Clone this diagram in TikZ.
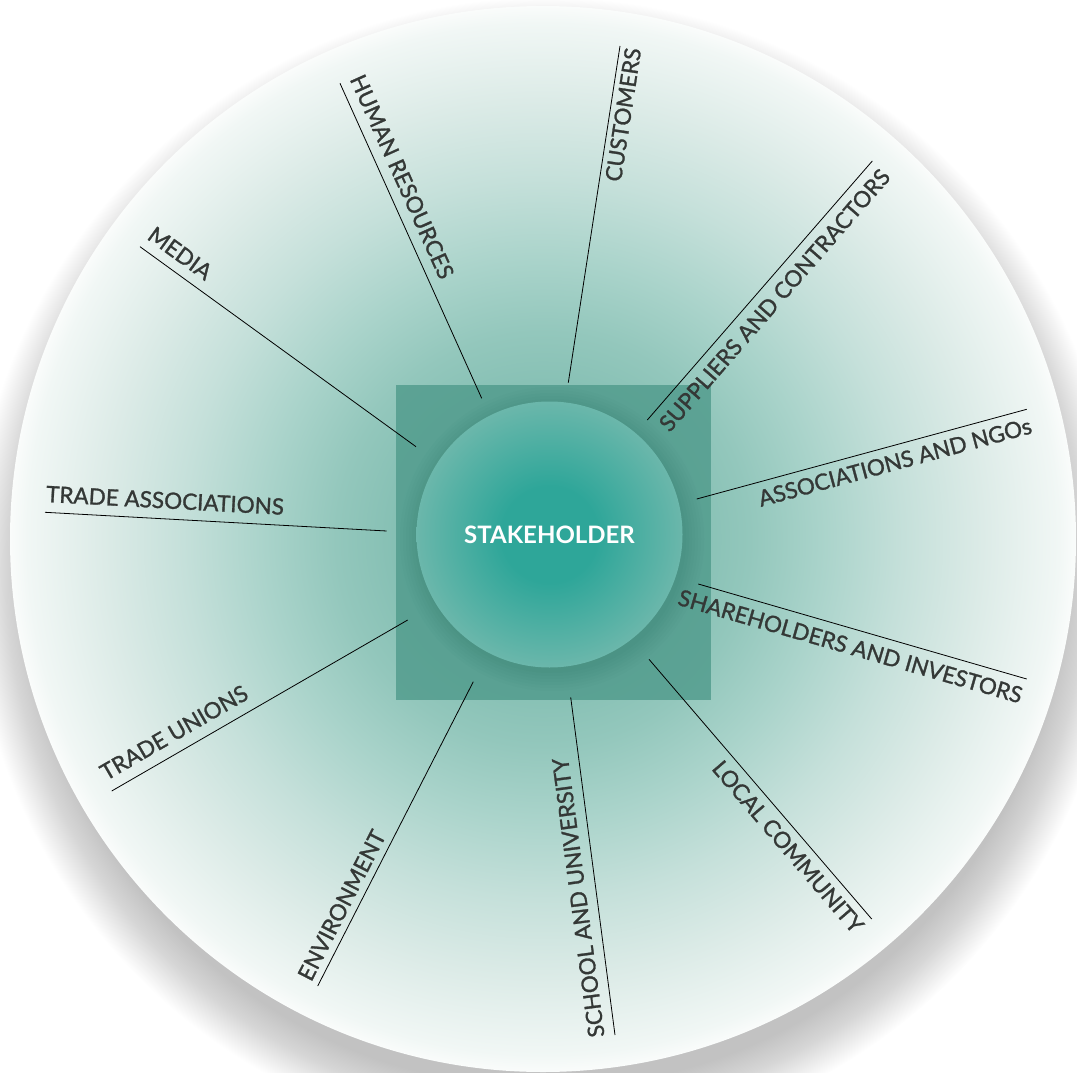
\documentclass[tikz,border=0pt]{standalone}
\usepackage{fontspec}
\setmainfont{Lato}
\newfontfamily\spokefont{Lato}[FakeBold=1.2]

\definecolor{fieldA}{HTML}{6FB3A6}
\definecolor{fieldB}{HTML}{86C0B4}
\definecolor{fieldC}{HTML}{93C7BC}
\definecolor{fieldD}{HTML}{A9D3CA}
\definecolor{fieldE}{HTML}{C5E0DA}
\definecolor{fieldF}{HTML}{DCEBE7}
\definecolor{fieldG}{HTML}{F1F7F5}
\definecolor{fieldH}{HTML}{FAFCFB}
\definecolor{shadowGray}{HTML}{C2C2C2}
\definecolor{shadowLight}{HTML}{D6D6D6}
\definecolor{squareTeal}{HTML}{4F9A8B}
\definecolor{squareDark}{HTML}{2F7A6C}
\definecolor{coreMid}{HTML}{2EA699}
\definecolor{coreRim}{HTML}{6BB7AB}
\definecolor{labelGray}{HTML}{343836}

\pgfdeclareradialshading{fieldfade}{\pgfpoint{0bp}{0bp}}{%
  color(0bp)=(fieldA); color(7bp)=(fieldB); color(9.7bp)=(fieldC);
  color(13bp)=(fieldD); color(16.9bp)=(fieldE); color(20.6bp)=(fieldF);
  color(24.2bp)=(fieldG); color(25bp)=(fieldH); color(50bp)=(fieldH)}
\pgfdeclareradialshading{fieldshadow}{\pgfpoint{0bp}{0bp}}{%
  color(0bp)=(shadowGray); color(22.4bp)=(shadowGray);
  color(23.5bp)=(shadowLight); color(25bp)=(white); color(50bp)=(white)}
\pgfdeclareradialshading{coreglow}{\pgfpoint{0bp}{0bp}}{%
  color(0bp)=(coreMid); color(9bp)=(coreMid);
  color(25bp)=(coreRim); color(50bp)=(coreRim)}

\tikzset{
  spoke/.style={black, line width=0.8pt},
  spokelabel/.style={text=labelGray, inner xsep=0pt,
      font=\spokefont\fontsize{22.5}{26}\selectfont},
}

\begin{document}
\begin{tikzpicture}[x=1pt, y=-1pt]
  \useasboundingbox (0,0) rectangle (1077,1073);
  \clip (0,0) rectangle (1077,1073);

  %% soft shadow under the field
  \shade[shading=fieldshadow] (546,572) circle (575pt);
  %% field
  \shade[shading=fieldfade] (543,539) circle (533pt);

  %% centre square
  \node (coresq) [fill=squareTeal, opacity=.8, minimum size=315pt,
      inner sep=0pt] at (553.5,542) {};
  \begin{scope}
    \clip (coresq.south west) rectangle (coresq.north east);
    \foreach \r in {134,137,...,152}
      \fill[squareDark, opacity=.045] (552,539) circle (\r pt);
  \end{scope}

  %% core
  \node (core) [circle, shading=coreglow, minimum size=266pt, inner sep=0pt,
      text=white, font=\bfseries\fontsize{24}{28}\selectfont]
      at (549.5,534.5) {STAKEHOLDER};

  %% spokes
  \foreach \nm/\ix/\iy/\ox/\oy/\ang/\anc/\gap/\txt in {
      cust/568.3/382.7/620/46/81.3/north east/5/CUSTOMERS,
      hr/481.7/398.3/340/83.3/-65.8/south west/10/HUMAN RESOURCES,
      media/416/446.7/140/246.7/-35.9/south west/10/MEDIA,
      tassoc/386.7/531/45/512.3/-3.1/south west/10/TRADE ASSOCIATIONS,
      tunion/407.7/620/111.7/791/30/south west/11/TRADE UNIONS,
      env/473.3/681.7/317.7/986/62.9/south west/7/ENVIRONMENT,
      school/570.7/697.3/615/1035/97.5/south west/10/SCHOOL AND UNIVERSITY,
      local/649/659.3/871.7/919/-49.4/north east/8/LOCAL COMMUNITY,
      share/698.3/584/1026.7/679/-16.1/north east/9/SHAREHOLDERS AND INVESTORS,
      ngo/696.7/499/1026.7/409.3/15.2/north east/8/ASSOCIATIONS AND NGOs,
      supp/647.3/420/872.3/161/49/north east/9/SUPPLIERS AND CONTRACTORS} {
    \coordinate (\nm-in) at (\ix,\iy);
    \coordinate (\nm-out) at (\ox,\oy);
    \draw[spoke] (\nm-in) -- (\nm-out);
    \node (\nm-label) [spokelabel, rotate=\ang, anchor=\anc,
        inner ysep=\gap pt] at (\nm-out) {\txt};
  }
\end{tikzpicture}
\end{document}
